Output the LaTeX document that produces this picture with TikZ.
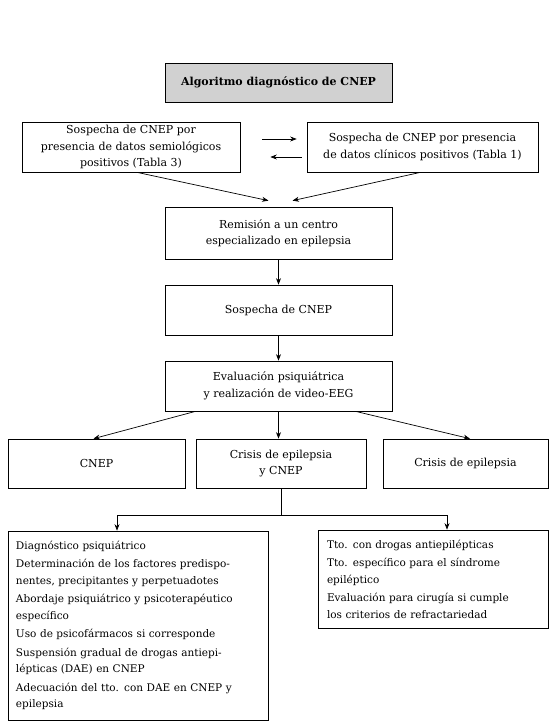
\documentclass[tikz,border=0pt]{standalone}
\usepackage{fontspec}
\setmainfont{DejaVu Serif}
\usetikzlibrary{arrows.meta}
\newcommand{\jline}[1]{\makebox[\linewidth][s]{#1}}
\begin{document}
\begin{tikzpicture}[x=1pt,y=-1pt,
  txt/.style={font=\fontsize{11}{16.5}\selectfont},
  box/.style={draw, line width=0.7pt, inner sep=2pt, align=center, txt},
  listbox/.style={box, align=left, font=\fontsize{10.5}{16.5}\selectfont},
  arr/.style={-{Stealth[length=6.5pt,width=5pt]}, line width=0.7pt},
  ln/.style={line width=0.7pt}]
\useasboundingbox (0,0) rectangle (555,727);
\node[box, fill=black!18, minimum width=227pt, minimum height=39pt,
  font=\bfseries\fontsize{11}{16.5}\selectfont] (T) at (278.5,82.5) {Algoritmo diagnóstico de CNEP};
\node[box, minimum width=218pt, minimum height=50pt] (A) at (131,147)
  {Sospecha de CNEP por\\presencia de datos semiológicos\\positivos (Tabla 3)};
\node[box, minimum width=231pt, minimum height=50pt] (B) at (422.5,147)
  {Sospecha de CNEP por presencia\\de datos clínicos positivos (Tabla 1)};
\node[box, minimum width=227pt, minimum height=52pt] (R) at (278.5,233)
  {Remisión a un centro\\especializado en epilepsia};
\node[box, minimum width=227pt, minimum height=50pt] (S) at (278.5,310) {Sospecha de CNEP};
\node[box, minimum width=227pt, minimum height=50pt] (E) at (278.5,386)
  {Evaluación psiquiátrica\\y realización de video-EEG};
\node[box, minimum width=177pt, minimum height=49pt] (C1) at (96.5,463.5) {CNEP};
\node[box, minimum width=170pt, minimum height=49pt] (C2) at (281,463.5) {Crisis de epilepsia\\y CNEP};
\node[box, minimum width=165pt, minimum height=49pt] (C3) at (465.5,463.5) {Crisis de epilepsia};
\node[listbox, text width=244pt, minimum width=260pt, minimum height=189pt] (L) at (138,625.5)
  {Diagnóstico psiquiátrico\\[2pt]
   \jline{Determinación de los factores predispo-}\\
   nentes, precipitantes y perpetuadotes\\[2pt]
   \jline{Abordaje psiquiátrico y psicoterapéutico}\\
   específico\\[2pt]
   Uso de psicofármacos si corresponde\\[2pt]
   \jline{Suspensión gradual de drogas antiepi-}\\
   lépticas (DAE) en CNEP\\[2pt]
   \jline{Adecuación del tto. con DAE en CNEP y}\\
   epilepsia};
\node[listbox, text width=212pt, minimum width=230pt, minimum height=98pt] (Rt) at (433,579)
  {Tto. con drogas antiepilépticas\\[2pt]
   \jline{Tto. específico para el síndrome}\\
   epiléptico\\[2pt]
   \jline{Evaluación para cirugía si cumple}\\
   los criterios de refractariedad\\[4pt]};
% connectors
\draw[arr, shorten <=22pt, shorten >=10pt] ([yshift=8pt]A.east) -- ([yshift=8pt]B.west);
\draw[arr, shorten <=5pt, shorten >=30pt] ([yshift=-10pt]B.west) -- ([yshift=-10pt]A.east);
\coordinate (ra) at ([xshift=-10pt,yshift=6pt]R.north);
\coordinate (rb) at ([xshift=14pt,yshift=6pt]R.north);
\draw[arr] ([xshift=6pt]A.south) -- (ra);
\draw[arr] ([xshift=-2pt]B.south) -- (rb);
\draw[arr] (R) -- (S);
\draw[arr] (S) -- (E);
\draw[arr] ([xshift=-83pt]E.south) -- ([xshift=-3pt]C1.north);
\draw[arr] (E.south) -- (E.south |- C2.north);
\draw[arr] ([xshift=77pt]E.south) -- ([xshift=4.5pt]C3.north);
\coordinate (jl) at (117,515);
\coordinate (jr) at (447,515);
\draw[ln] (C2.south) -- (C2.south |- jl);
\draw[arr] (C2.south |- jl) -- (jl) -- (jl |- L.north);
\draw[arr] (C2.south |- jr) -- (jr) -- (jr |- Rt.north);
\end{tikzpicture}
\end{document}
